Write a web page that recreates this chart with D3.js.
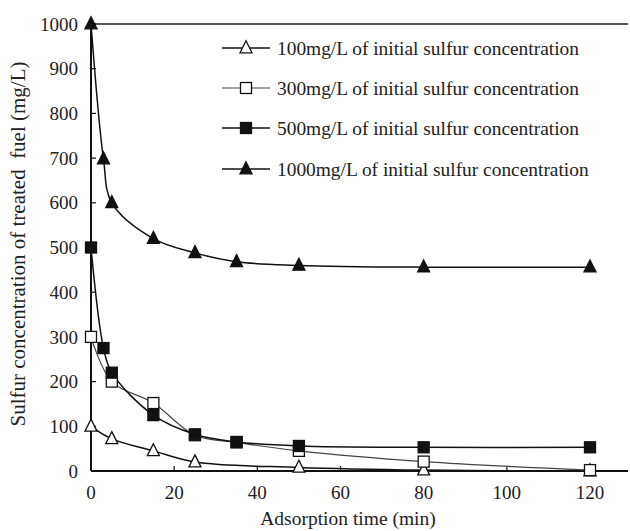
<!DOCTYPE html>
<html>
<head>
<meta charset="utf-8">
<script src="https://cdn.jsdelivr.net/npm/d3@7"></script>
<style>
  body { margin: 0; background: #fff; }
</style>
</head>
<body>
<div id="main"></div>
<script>
// data
const times100 = [0, 5, 15, 25, 50, 80, 120];
const s100 = [100, 72, 45, 20, 8, 2, 0];
const times300 = [0, 5, 15, 25, 35, 50, 80, 120];
const s300 = [300, 200, 152, 80, 64, 45, 21, 2];
const times500 = [0, 3, 5, 15, 25, 35, 50, 80, 120];
const s500 = [500, 275, 220, 125, 82, 65, 56, 53, 53];
const times1000 = [0, 3, 5, 15, 25, 35, 50, 80, 120];
const s1000 = [1000, 698, 600, 520, 488, 468, 460, 456, 456];
const seriesNames = [
  "100mg/L of initial sulfur concentration",
  "300mg/L of initial sulfur concentration",
  "500mg/L of initial sulfur concentration",
  "1000mg/L of initial sulfur concentration"
];
const xTicks = [0, 20, 40, 60, 80, 100, 120];
const yTicks = [0, 100, 200, 300, 400, 500, 600, 700, 800, 900, 1000];

const series = [
  { name: seriesNames[0], t: times100, v: s100, marker: "triangle", fill: "#fff", stroke: "#111", lw: 1.5 },
  { name: seriesNames[1], t: times300, v: s300, marker: "square", fill: "#fff", stroke: "#444", lw: 1.2 },
  { name: seriesNames[2], t: times500, v: s500, marker: "square", fill: "#111", stroke: "#111", lw: 1.5 },
  { name: seriesNames[3], t: times1000, v: s1000, marker: "triangle", fill: "#111", stroke: "#111", lw: 1.5 }
];

const FONT = "'Liberation Serif', 'Times New Roman', serif";
const width = 630, height = 531;
const x0 = 91, x1 = 590, yTop = 24, yBot = 471;

const svg = d3.select("#main").append("svg")
  .attr("width", width)
  .attr("height", height)
  .attr("font-family", FONT);

const x = d3.scaleLinear().domain([0, 120]).range([x0, x1]);
const y = d3.scaleLinear().domain([0, 1000]).range([yBot, yTop]);

// top border
svg.append("line")
  .attr("x1", x0).attr("x2", 628)
  .attr("y1", y(1000)).attr("y2", y(1000))
  .attr("stroke", "#222").attr("stroke-width", 1.5);

// x axis
const xAxis = svg.append("g").attr("transform", `translate(0,${yBot})`);
xAxis.append("line").attr("x1", x0).attr("x2", 628).attr("stroke", "#111").attr("stroke-width", 2);
xAxis.selectAll(".xt").data(xTicks).enter().append("line")
  .attr("x1", d => x(d)).attr("x2", d => x(d))
  .attr("y1", 0).attr("y2", -5)
  .attr("stroke", "#111").attr("stroke-width", 1.2);
xAxis.selectAll(".xl").data(xTicks).enter().append("text")
  .attr("x", d => x(d)).attr("y", 28)
  .attr("text-anchor", "middle")
  .attr("font-size", "19px")
  .attr("fill", "#222")
  .text(d => d);

// y axis
const yAxis = svg.append("g").attr("transform", `translate(${x0},0)`);
yAxis.append("line").attr("y1", yTop).attr("y2", yBot).attr("stroke", "#111").attr("stroke-width", 2);
yAxis.selectAll(".yt").data(yTicks).enter().append("line")
  .attr("x1", 0).attr("x2", 5)
  .attr("y1", d => y(d)).attr("y2", d => y(d))
  .attr("stroke", "#111").attr("stroke-width", 1.2);
yAxis.selectAll(".yl").data(yTicks).enter().append("text")
  .attr("x", -13).attr("y", d => y(d))
  .attr("dy", "0.35em")
  .attr("text-anchor", "end")
  .attr("font-size", "19px")
  .attr("fill", "#222")
  .text(d => d);

// axis titles
svg.append("text")
  .attr("x", 348).attr("y", 525)
  .attr("text-anchor", "middle")
  .attr("font-size", "19.5px")
  .attr("fill", "#222")
  .text("Adsorption time (min)");
svg.append("text")
  .attr("transform", "translate(25,244) rotate(-90)")
  .attr("text-anchor", "middle")
  .attr("font-size", "21px")
  .attr("fill", "#222")
  .style("white-space", "pre")
  .text("Sulfur concentration of treated  fuel (mg/L)");

const line = d3.line()
  .x(d => x(d[0]))
  .y(d => y(d[1]))
  .curve(d3.curveCatmullRom.alpha(0.5));

function drawMarker(g, type, cx, cy, s) {
  if (type === "triangle") {
    const h = 12, w = 12;
    return g.append("path")
      .attr("d", `M${cx},${cy - h * 0.6}L${cx + w / 2},${cy + h * 0.4}L${cx - w / 2},${cy + h * 0.4}Z`)
      .attr("fill", s.fill).attr("stroke", "#111").attr("stroke-width", 1.3);
  }
  const a = 11;
  return g.append("rect")
    .attr("x", cx - a / 2).attr("y", cy - a / 2)
    .attr("width", a).attr("height", a)
    .attr("fill", s.fill).attr("stroke", "#111").attr("stroke-width", 1.3);
}

const plot = svg.append("g");
series.forEach(s => {
  const pts = s.t.map((t, i) => [t, s.v[i]]);
  plot.append("path")
    .datum(pts)
    .attr("d", line)
    .attr("fill", "none")
    .attr("stroke", s.stroke)
    .attr("stroke-width", s.lw);
});
// markers drawn after lines, in series order
series.forEach(s => {
  const g = plot.append("g");
  s.t.forEach((t, i) => drawMarker(g, s.marker, x(t), y(s.v[i]), s));
});

// legend
const legend = svg.append("g");
const legRows = [48, 88, 128, 169];
series.forEach((s, i) => {
  const ly = legRows[i];
  legend.append("line")
    .attr("x1", 222).attr("x2", 270)
    .attr("y1", ly).attr("y2", ly)
    .attr("stroke", s.stroke).attr("stroke-width", s.lw);
  drawMarker(legend, s.marker, 246, ly, s);
  legend.append("text")
    .attr("x", 277).attr("y", ly)
    .attr("dy", "0.35em")
    .attr("font-size", "19.4px")
    .attr("fill", "#222")
    .text(s.name);
});
</script>
</body>
</html>
